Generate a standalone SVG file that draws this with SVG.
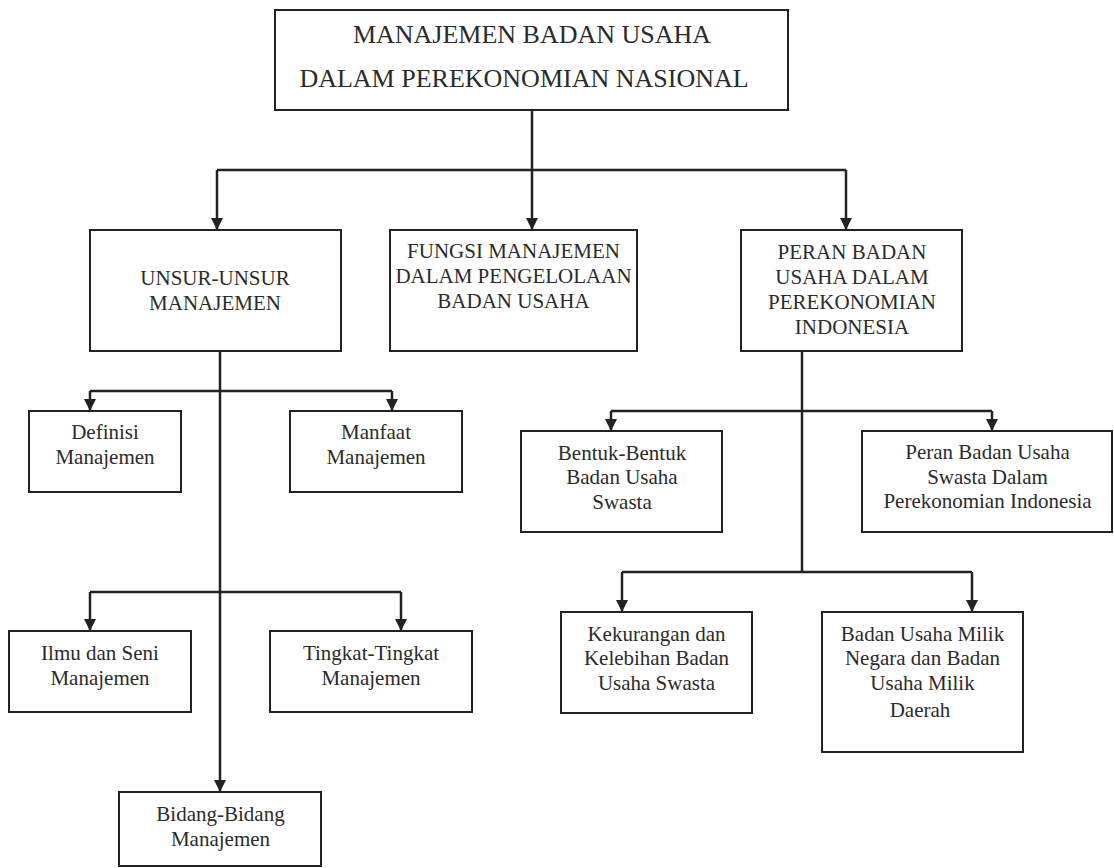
<svg xmlns="http://www.w3.org/2000/svg" width="1114" height="868" viewBox="0 0 1114 868">
<style>
.box{fill:#fff;stroke:#222;stroke-width:2}
text{font-family:'Liberation Serif','Times New Roman',serif;font-size:21px;fill:#2b2b2b;text-anchor:middle}
.title{font-size:26px}
.c{fill:none;stroke:#222;stroke-width:2.5}
.a{fill:none;stroke:#222;stroke-width:2.5;marker-end:url(#arr)}
</style>
<defs>
<marker id="arr" markerUnits="userSpaceOnUse" markerWidth="13" markerHeight="13" refX="12" refY="6.5" orient="auto">
<path d="M0,0.5 L12,6.5 L0,12.5 z" fill="#222"/>
</marker>
</defs>
<rect width="1114" height="868" fill="#fff"/>
<g id="connectors">
<path class="a" d="M532,110 V230"/>
<path class="c" d="M217,170 H846"/>
<path class="a" d="M217,170 V230"/>
<path class="a" d="M846,170 V230"/>
<path class="a" d="M220,351 V792"/>
<path class="c" d="M90,391 H392"/>
<path class="a" d="M90,391 V411"/>
<path class="a" d="M392,391 V411"/>
<path class="c" d="M90,592 H401"/>
<path class="a" d="M90,592 V631"/>
<path class="a" d="M401,592 V631"/>
<path class="c" d="M802,351 V572"/>
<path class="c" d="M611,411 H992"/>
<path class="a" d="M611,411 V431"/>
<path class="a" d="M992,411 V431"/>
<path class="c" d="M622,572 H972"/>
<path class="a" d="M622,572 V612"/>
<path class="a" d="M972,572 V612"/>
</g>
<g id="root">
<rect class="box" x="275" y="10" width="513" height="100"/>
<text class="title" x="532" y="43">MANAJEMEN BADAN USAHA</text>
<text class="title" x="524" y="87">DALAM PEREKONOMIAN NASIONAL</text>
</g>
<g id="unsur">
<rect class="box" x="90" y="230" width="251" height="121"/>
<text x="215" y="285">UNSUR-UNSUR</text>
<text x="215" y="310">MANAJEMEN</text>
</g>
<g id="fungsi">
<rect class="box" x="390" y="230" width="247" height="121"/>
<text x="513.5" y="258">FUNGSI MANAJEMEN</text>
<text x="513.5" y="283">DALAM PENGELOLAAN</text>
<text x="513.5" y="308">BADAN USAHA</text>
</g>
<g id="peran">
<rect class="box" x="741" y="230" width="221" height="121"/>
<text x="852" y="259">PERAN BADAN</text>
<text x="852" y="284">USAHA DALAM</text>
<text x="852" y="309">PEREKONOMIAN</text>
<text x="852" y="334">INDONESIA</text>
</g>
<g id="definisi">
<rect class="box" x="29" y="411" width="152" height="81"/>
<text x="105" y="439">Definisi</text>
<text x="105" y="464">Manajemen</text>
</g>
<g id="manfaat">
<rect class="box" x="290" y="411" width="172" height="81"/>
<text x="376" y="439">Manfaat</text>
<text x="376" y="464">Manajemen</text>
</g>
<g id="ilmu">
<rect class="box" x="9" y="631" width="182" height="81"/>
<text x="100" y="660">Ilmu dan Seni</text>
<text x="100" y="685">Manajemen</text>
</g>
<g id="tingkat">
<rect class="box" x="270" y="631" width="202" height="81"/>
<text x="371" y="660">Tingkat-Tingkat</text>
<text x="371" y="685">Manajemen</text>
</g>
<g id="bidang">
<rect class="box" x="119" y="792" width="202" height="74"/>
<text x="220.5" y="821">Bidang-Bidang</text>
<text x="220.5" y="846">Manajemen</text>
</g>
<g id="bentuk">
<rect class="box" x="521" y="431" width="201" height="101"/>
<text x="622" y="460">Bentuk-Bentuk</text>
<text x="622" y="484">Badan Usaha</text>
<text x="622" y="509">Swasta</text>
</g>
<g id="peran-swasta">
<rect class="box" x="862" y="431" width="250" height="101"/>
<text x="987.5" y="459">Peran Badan Usaha</text>
<text x="987.5" y="484">Swasta Dalam</text>
<text x="987.5" y="508">Perekonomian Indonesia</text>
</g>
<g id="kekurangan">
<rect class="box" x="561" y="612" width="191" height="101"/>
<text x="656.5" y="641">Kekurangan dan</text>
<text x="656.5" y="665">Kelebihan Badan</text>
<text x="656.5" y="690">Usaha Swasta</text>
</g>
<g id="bumn">
<rect class="box" x="822" y="612" width="201" height="140"/>
<text x="922.5" y="641">Badan Usaha Milik</text>
<text x="922.5" y="665">Negara dan Badan</text>
<text x="922.5" y="690">Usaha Milik</text>
<text x="920" y="717">Daerah</text>
</g>
</svg>
